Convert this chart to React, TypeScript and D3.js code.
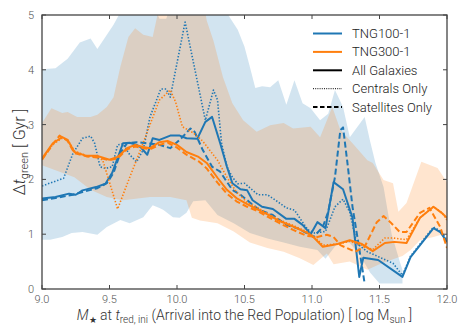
import * as d3 from 'd3';

type Pt = [number, number];

// median lines, [log M*, Δt_green]
const tng100All: Pt[] = [
  [9.0, 1.65], [9.1, 1.68], [9.2, 1.74], [9.25, 1.72], [9.3, 1.8], [9.4, 1.86], [9.47, 1.92],
  [9.52, 2.12], [9.56, 2.39], [9.6, 2.66], [9.65, 2.67], [9.7, 2.63], [9.73, 2.59], [9.78, 2.45],
  [9.82, 2.75], [9.87, 2.72], [9.95, 2.8], [10.02, 2.8], [10.07, 2.75], [10.15, 2.74], [10.21, 3.05],
  [10.26, 3.14], [10.32, 2.66], [10.37, 2.23], [10.41, 1.93], [10.47, 1.82], [10.52, 1.8], [10.56, 1.62],
  [10.63, 1.5], [10.71, 1.46], [10.81, 1.28], [10.87, 1.28], [10.93, 1.17], [10.99, 1.0], [11.04, 1.22],
  [11.1, 1.11], [11.16, 1.95], [11.23, 1.82], [11.3, 1.3], [11.35, 0.22], [11.38, 0.57], [11.49, 0.53],
  [11.67, 0.22], [11.73, 0.58], [11.9, 1.11], [11.95, 1.04], [12.0, 0.86],
];
const tng100Cen: Pt[] = [
  [9.0, 1.88], [9.16, 2.02], [9.23, 2.48], [9.3, 2.75], [9.36, 2.79], [9.39, 2.66], [9.43, 2.23],
  [9.47, 2.2], [9.52, 2.23], [9.56, 2.63], [9.6, 2.65], [9.65, 2.45], [9.7, 2.32], [9.75, 2.54],
  [9.8, 3.14], [9.88, 3.65], [9.92, 3.65], [9.95, 3.5], [10.06, 4.87], [10.21, 3.08], [10.27, 3.63],
  [10.3, 3.45], [10.33, 2.66], [10.37, 2.23], [10.41, 2.04], [10.45, 1.92], [10.5, 1.93], [10.6, 1.72],
  [10.67, 1.72], [10.73, 1.62], [10.81, 1.48], [10.87, 1.44], [10.93, 1.22], [10.97, 1.08], [11.02, 1.02],
  [11.1, 1.05], [11.17, 1.5], [11.23, 1.64], [11.28, 1.4], [11.33, 0.84], [11.41, 0.68], [11.5, 0.58],
  [11.6, 0.47], [11.67, 0.25], [11.73, 0.6], [11.9, 1.13], [11.95, 1.06], [12.0, 0.9],
];
const tng100Sat: Pt[] = [
  [9.0, 1.62], [9.1, 1.66], [9.23, 1.72], [9.3, 1.77], [9.41, 1.84], [9.48, 1.93], [9.53, 2.12],
  [9.58, 2.48], [9.63, 2.66], [9.7, 2.68], [9.78, 2.66], [9.87, 2.63], [9.95, 2.57], [10.02, 2.72],
  [10.1, 2.93], [10.13, 2.87], [10.19, 2.54], [10.26, 2.23], [10.32, 2.14], [10.36, 1.99], [10.41, 1.81],
  [10.47, 1.72], [10.54, 1.58], [10.61, 1.44], [10.71, 1.35], [10.81, 1.17], [10.89, 1.11], [10.96, 1.02],
  [11.01, 0.95], [11.08, 1.13], [11.12, 1.41], [11.17, 2.04], [11.21, 2.9], [11.23, 2.95], [11.26, 2.35],
  [11.3, 1.5], [11.34, 0.89], [11.39, 0.1],
];
const tng300All: Pt[] = [
  [9.0, 2.38], [9.08, 2.66], [9.15, 2.77], [9.19, 2.72], [9.24, 2.5], [9.33, 2.43], [9.41, 2.43],
  [9.5, 2.36], [9.56, 2.41], [9.63, 2.57], [9.69, 2.63], [9.75, 2.59], [9.8, 2.57], [9.87, 2.68],
  [9.93, 2.7], [10.0, 2.63], [10.07, 2.5], [10.16, 2.41], [10.22, 2.3], [10.3, 2.03], [10.37, 1.81],
  [10.44, 1.66], [10.52, 1.55], [10.6, 1.45], [10.67, 1.36], [10.76, 1.24], [10.86, 1.14], [10.96, 1.03],
  [11.01, 0.95], [11.08, 0.77], [11.19, 0.82], [11.28, 0.89], [11.37, 0.82], [11.45, 0.69], [11.54, 0.84],
  [11.61, 0.86], [11.7, 0.84], [11.8, 1.3], [11.9, 1.5], [11.96, 1.39], [12.0, 1.3],
];
const tng300Cen: Pt[] = [
  [9.0, 2.36], [9.08, 2.64], [9.15, 2.75], [9.19, 2.72], [9.24, 2.52], [9.33, 2.43], [9.41, 2.42],
  [9.45, 2.35], [9.56, 1.46], [9.65, 2.04], [9.73, 2.54], [9.8, 3.0], [9.87, 3.45], [9.95, 3.63],
  [9.99, 3.41], [10.04, 2.96], [10.12, 2.85], [10.19, 2.7], [10.3, 2.35], [10.37, 2.04], [10.44, 1.77],
  [10.52, 1.58], [10.6, 1.48], [10.67, 1.38], [10.76, 1.26], [10.86, 1.16], [10.96, 1.05], [11.02, 0.95],
  [11.08, 0.8], [11.19, 0.82], [11.28, 0.87], [11.37, 0.8], [11.45, 0.72], [11.54, 0.93], [11.6, 0.93],
  [11.7, 0.9], [11.8, 1.3], [11.9, 1.5], [11.96, 1.4], [12.0, 1.26],
];
const tng300Sat: Pt[] = [
  [9.0, 2.36], [9.08, 2.64], [9.13, 2.8], [9.19, 2.7], [9.24, 2.48], [9.33, 2.42], [9.41, 2.4],
  [9.5, 2.35], [9.56, 2.38], [9.63, 2.55], [9.69, 2.6], [9.75, 2.57], [9.8, 2.55], [9.87, 2.63],
  [9.93, 2.67], [10.0, 2.58], [10.07, 2.45], [10.16, 2.33], [10.22, 2.2], [10.3, 1.94], [10.37, 1.74],
  [10.44, 1.6], [10.52, 1.5], [10.6, 1.42], [10.67, 1.32], [10.76, 1.2], [10.86, 1.08], [10.96, 0.97],
  [11.04, 0.95], [11.11, 0.99], [11.16, 0.95], [11.21, 0.8], [11.32, 0.68], [11.39, 0.77], [11.48, 1.22],
  [11.53, 1.33], [11.58, 1.22], [11.65, 1.04], [11.7, 1.04], [11.8, 1.39], [11.87, 1.48], [11.95, 1.13],
  [12.0, 0.75],
];

// scatter bands (upper and lower edges)
const tng100Upper: Pt[] = [
  [9.0, 4.01], [9.1, 4.03], [9.19, 4.2], [9.28, 4.5], [9.36, 4.57], [9.41, 4.38], [9.53, 4.82],
  [9.58, 5.05], [9.73, 5.2], [9.84, 5.1], [9.87, 4.93], [9.92, 4.93], [9.96, 5.2], [10.36, 5.1],
  [10.39, 4.96], [10.45, 4.73], [10.5, 4.42], [10.54, 4.05], [10.58, 3.67], [10.63, 3.7], [10.69, 3.68],
  [10.75, 3.81], [10.81, 3.36], [10.87, 3.81], [10.93, 3.39], [10.99, 3.3], [11.06, 3.08], [11.12, 3.2],
  [11.17, 3.63], [11.23, 3.32], [11.28, 2.77], [11.39, 3.14], [11.43, 2.7], [11.47, 2.3], [11.53, 1.86],
  [11.59, 1.0], [11.65, 0.5], [11.67, 0.35],
];
const tng100Lower: Pt[] = [
  [9.0, 0.9], [9.06, 0.9], [9.15, 0.95], [9.22, 1.02], [9.3, 1.04], [9.41, 0.99], [9.48, 1.13],
  [9.58, 1.26], [9.65, 1.2], [9.75, 1.31], [9.82, 1.53], [9.87, 1.48], [9.9, 1.44], [9.97, 1.31],
  [10.02, 1.3], [10.07, 1.39], [10.12, 1.6], [10.21, 1.62], [10.3, 1.35], [10.42, 1.2], [10.54, 1.02],
  [10.67, 0.92], [10.79, 0.85], [10.91, 0.77], [11.04, 0.71], [11.1, 0.55], [11.19, 0.84], [11.28, 0.84],
  [11.36, 0.6], [11.43, 0.3], [11.5, 0.1], [11.67, 0.1],
];
const tng300Upper: Pt[] = [
  [9.0, 3.03], [9.07, 3.3], [9.15, 3.21], [9.19, 3.23], [9.26, 3.14], [9.36, 3.14], [9.41, 3.18],
  [9.48, 3.32], [9.53, 3.5], [9.58, 4.05], [9.64, 4.6], [9.69, 4.76], [9.75, 4.64], [9.82, 4.6],
  [9.86, 5.05], [10.21, 5.05], [10.22, 4.9], [10.27, 4.53], [10.34, 3.87], [10.41, 3.39], [10.49, 3.08],
  [10.59, 2.87], [10.69, 2.99], [10.79, 3.03], [10.86, 2.93], [10.99, 2.96], [11.06, 2.77], [11.15, 3.32],
  [11.21, 2.9], [11.3, 2.66], [11.41, 2.35], [11.45, 2.3], [11.53, 1.99], [11.6, 1.93], [11.64, 1.41],
  [11.7, 1.57], [11.81, 2.32], [11.93, 2.21], [12.0, 1.95],
];
const tng300Lower: Pt[] = [
  [9.0, 2.26], [9.24, 2.04], [9.36, 1.81], [9.48, 1.68], [9.6, 1.62], [9.8, 1.68], [9.95, 1.68],
  [10.07, 1.62], [10.11, 1.3], [10.17, 1.25], [10.3, 1.2], [10.42, 1.05], [10.54, 0.85], [10.67, 0.75],
  [10.79, 0.68], [10.91, 0.56], [11.01, 0.44], [11.11, 0.65], [11.16, 0.45], [11.28, 0.5], [11.41, 0.35],
  [11.5, 0.45], [11.61, 0.55], [11.67, 0.6], [11.73, 0.71], [11.8, 0.89], [11.9, 0.95], [12.0, 1.02],
];

const xTicks = [9.0, 9.5, 10.0, 10.5, 11.0, 11.5, 12.0];
const yTicks = [0, 1, 2, 3, 4, 5];

const BLUE = '#1f77b4';
const ORANGE = '#ff7f0e';
const AXIS = '#444';
const FONT = 'Roboto, "DejaVu Sans", sans-serif';

const legendItems = [
  { label: 'TNG100-1', color: BLUE, dash: null, width: 2 },
  { label: 'TNG300-1', color: ORANGE, dash: null, width: 2 },
  { label: 'All Galaxies', color: '#000', dash: null, width: 2 },
  { label: 'Centrals Only', color: '#000', dash: '1,1.2', width: 1 },
  { label: 'Satellites Only', color: '#000', dash: '4.5,2.5', width: 2 },
];

export default function App() {
  const width = 470;
  const height = 336;
  const left = 42;
  const right = 447;
  const top = 15;
  const bottom = 289;

  const x = d3.scaleLinear().domain([9, 12]).range([left, right]);
  const y = d3.scaleLinear().domain([0, 5]).range([bottom, top]);

  const line = d3
    .line<Pt>()
    .x((d) => x(d[0]))
    .y((d) => y(d[1]));

  const band = (upper: Pt[], lower: Pt[]) => (line(upper.concat(lower.slice().reverse())) || '') + 'Z';

  const series = [
    { data: tng100All, color: BLUE, dash: undefined, w: 2 },
    { data: tng100Cen, color: BLUE, dash: '1.4,1.8', w: 1.6 },
    { data: tng100Sat, color: BLUE, dash: '6,3', w: 2 },
    { data: tng300All, color: ORANGE, dash: undefined, w: 2 },
    { data: tng300Cen, color: ORANGE, dash: '1.4,1.8', w: 1.6 },
    { data: tng300Sat, color: ORANGE, dash: '6,3', w: 2 },
  ];

  return (
    <svg
      width={width}
      height={height}
      style={{ position: 'absolute', left: 0, top: 0, background: '#fff' }}
      fontFamily={FONT}
    >
      <defs>
        <clipPath id="plot">
          <rect x={left} y={top} width={right - left} height={bottom - top} />
        </clipPath>
      </defs>

      <g clipPath="url(#plot)">
        <path d={band(tng100Upper, tng100Lower)} fill={BLUE} fillOpacity={0.2} />
        <path d={band(tng300Upper, tng300Lower)} fill={ORANGE} fillOpacity={0.2} />
        {series.map((s, i) => (
          <path
            key={i}
            d={line(s.data) || ''}
            fill="none"
            stroke={s.color}
            strokeWidth={s.w}
            strokeDasharray={s.dash}
            strokeLinejoin="round"
          />
        ))}
      </g>

      {/* frame */}
      <rect x={left} y={top} width={right - left} height={bottom - top} fill="none" stroke={AXIS} strokeWidth={1.3} />

      {/* ticks */}
      {xTicks.map((t) => (
        <g key={'x' + t}>
          <line x1={x(t)} x2={x(t)} y1={bottom} y2={bottom - 4} stroke={AXIS} strokeWidth={1} />
          <line x1={x(t)} x2={x(t)} y1={top} y2={top + 4} stroke={AXIS} strokeWidth={1} />
          <text x={x(t)} y={bottom + 14} textAnchor="middle" fontSize={11} fontWeight={300} fill="#555">
            {t.toFixed(1)}
          </text>
        </g>
      ))}
      {yTicks.map((t) => (
        <g key={'y' + t}>
          <line x1={left} x2={left + 4} y1={y(t)} y2={y(t)} stroke={AXIS} strokeWidth={1} />
          <line x1={right} x2={right - 4} y1={y(t)} y2={y(t)} stroke={AXIS} strokeWidth={1} />
          <text x={left - 8} y={y(t) + 4} textAnchor="end" fontSize={11} fontWeight={300} fill="#555">
            {t}
          </text>
        </g>
      ))}

      {/* axis labels */}
      <text
        transform={`translate(25,${(top + bottom) / 2}) rotate(-90)`}
        textAnchor="middle"
        fontSize={16}
        fontWeight={300}
        fill="#333"
      >
        Δ<tspan fontStyle="italic">t</tspan>
        <tspan fontSize={11} dy={3}>green</tspan>
        <tspan dy={-3}> [ Gyr ]</tspan>
      </text>
      <text x={(left + right) / 2} y={320} textAnchor="middle" fontSize={14} fontWeight={300} fill="#333">
        <tspan fontStyle="italic">M</tspan>
        <tspan fontSize={9} dy={3}>★</tspan>
        <tspan dy={-3}> at </tspan>
        <tspan fontStyle="italic">t</tspan>
        <tspan fontSize={10} dy={3}>red, ini</tspan>
        <tspan dy={-3}> (Arrival into the Red Population) [ log M</tspan>
        <tspan fontSize={10} dy={3}>sun</tspan>
        <tspan dy={-3}> ]</tspan>
      </text>

      {/* legend */}
      {legendItems.map((item, i) => {
        const ly = 33.5 + i * 18.4;
        return (
          <g key={item.label}>
            <line
              x1={313}
              x2={342}
              y1={ly}
              y2={ly}
              stroke={item.color}
              strokeWidth={item.width}
              strokeDasharray={item.dash || undefined}
            />
            <text x={352} y={ly + 4.5} fontSize={13} fontWeight={300} fill="#222">
              {item.label}
            </text>
          </g>
        );
      })}
    </svg>
  );
}
